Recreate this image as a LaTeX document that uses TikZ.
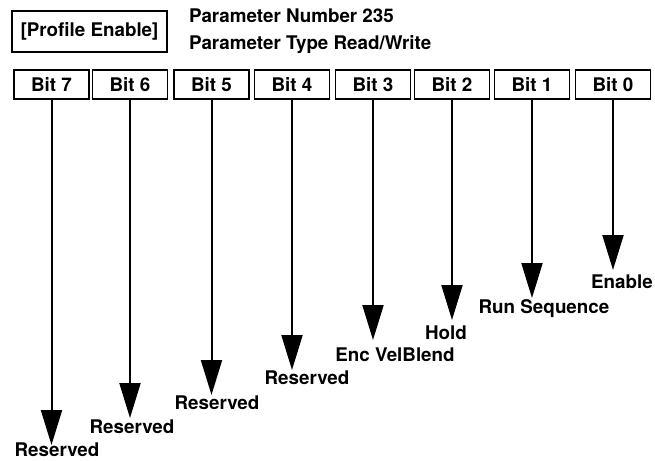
\documentclass[tikz,border=0pt]{standalone}
\usepackage{fontspec}
\setmainfont{TeX Gyre Heros}
\usetikzlibrary{arrows.meta}

\begin{document}
\begin{tikzpicture}[
        x=0.5pt,
        y=-0.5pt,
        every node/.style={
            font=\fontsize{9.4}{11}\selectfont\bfseries
        },
        bitbox/.style={
            rectangle,
            draw,
            line width=0.9pt,
            minimum width=37.5pt,
            minimum height=14.5pt,
            inner sep=0pt
        },
        namebox/.style={
            rectangle,
            draw,
            line width=0.9pt,
            minimum width=77.5pt,
            minimum height=20.5pt,
            inner sep=0pt
        },
        pointer/.style={
            line width=1pt,
            -{Triangle[length=17.5pt,width=10.5pt]}
        }
    ]

        \useasboundingbox (0,0) rectangle (655,461);

        \node[namebox] (name) at (89.5,31.5) {[Profile Enable]};
        \node[anchor=west] (number) at (182,16) {Parameter Number 235};
        \node[anchor=west] (type) at (182,45) {Parameter Type Read/Write};

        \foreach \b/\x/\tip/\lx/\ly/\txt in {
            7/51.5/445/57/450/Reserved,
            6/130/418/132/427/Reserved,
            5/211.5/395/217/403/Reserved,
            4/292/370/307/378/Reserved,
            3/373/340/395/355/Enc VelBlend,
            2/452/320/446/333/Hold,
            1/532/298/544/309/Run Sequence,
            0/613/270/622/282/Enable} {
            \node[bitbox] (bit\b) at (\x,84.5) {Bit \b};
            \coordinate (tip\b) at (\x,\tip);
            \node (lbl\b) at (\lx,\ly) {\txt};
            \draw[pointer] (bit\b) -- (tip\b);
        }

    \end{tikzpicture}
\end{document}
